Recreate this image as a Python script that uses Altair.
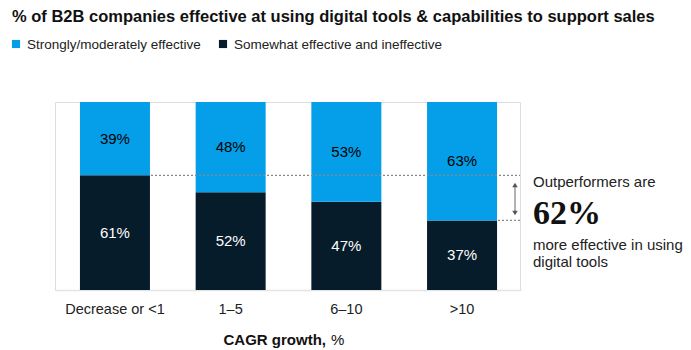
import altair as alt
import pandas as pd

categories = ["Decrease or <1", "1–5", "6–10", ">10"]
strong = [39, 48, 53, 63]
somewhat = [61, 52, 47, 37]
series_names = ["Strongly/moderately effective", "Somewhat effective and ineffective"]

BLUE = "#049FE8"
DARK = "#061C2B"
FONT = "Liberation Sans"

rows = []
for c, s, w in zip(categories, strong, somewhat):
    rows.append({"cat": c, "series": series_names[1], "y0": 0, "y1": w, "label": f"{w}%", "mid": w / 2, "tc": "white"})
    rows.append({"cat": c, "series": series_names[0], "y0": w, "y1": 100, "label": f"{s}%", "mid": w + s / 2, "tc": "black"})
df = pd.DataFrame(rows)

W, H = 465, 188
xenc = alt.X("cat:N", sort=categories,
             scale=alt.Scale(paddingInner=0.395, paddingOuter=0.207, range=[1, 466]),
             axis=alt.Axis(title=None, labelAngle=0, ticks=False, labelFontSize=14.5,
                           labelFont=FONT, labelColor="#222222", labelPadding=12,
                           domainColor="#e4e4e4", domainWidth=1.5))
yscale = alt.Scale(domain=[0, 100])

base = alt.Chart(df)
bars = base.mark_bar(size=70).encode(
    x=xenc,
    y=alt.Y("y0:Q", scale=yscale, axis=None),
    y2="y1:Q",
    color=alt.Color("series:N", scale=alt.Scale(domain=series_names, range=[BLUE, DARK]), legend=None),
)
labels = base.mark_text(fontSize=15, font=FONT).encode(
    x=alt.X("cat:N", sort=categories),
    y=alt.Y("mid:Q", scale=yscale),
    text="label:N",
    color=alt.Color("tc:N", scale=None),
)

# annotation lines
top_df = pd.DataFrame({"v": [somewhat[0]]})
bot_df = pd.DataFrame({"v": [somewhat[-1]]})
dot_style = dict(color="#888888", strokeDash=[2, 2], strokeWidth=1.2)
line1 = alt.Chart(top_df).mark_rule(**dot_style).encode(
    y=alt.Y("v:Q", scale=yscale), x=alt.value(96), x2=alt.value(465))
line2 = alt.Chart(bot_df).mark_rule(**dot_style).encode(
    y=alt.Y("v:Q", scale=yscale), x=alt.value(443), x2=alt.value(465))
arrow = alt.Chart(top_df).mark_rule(color="#666666", strokeWidth=1).encode(
    x=alt.value(460), y=alt.value(82), y2=alt.value(112))
arrow_up = alt.Chart(top_df).mark_point(shape="triangle-up", filled=True, size=30, color="#555555", opacity=1).encode(
    x=alt.value(460), y=alt.value(83))
arrow_dn = alt.Chart(top_df).mark_point(shape="triangle-down", filled=True, size=30, color="#555555", opacity=1).encode(
    x=alt.value(460), y=alt.value(111))

ann_df = pd.DataFrame({
    "t": ["Outperformers are", "more effective in using", "digital tools"],
    "yy": [80, 143, 160],
})
ann = alt.Chart(ann_df).mark_text(align="left", fontSize=15, font=FONT, color="#222222").encode(
    x=alt.value(478), y=alt.Y("yy:Q", scale=None), text="t:N")
big = alt.Chart(pd.DataFrame({"t": ["62%"]})).mark_text(
    align="left", fontSize=34, font="Liberation Serif", fontWeight="bold", color="#111111").encode(
    x=alt.value(478), y=alt.value(112), text="t:N")

# title
title = alt.Chart(pd.DataFrame({"t": ["% of B2B companies effective at using digital tools & capabilities to support sales"]})).mark_text(
    align="left", baseline="middle", fontSize=16.5, font=FONT, fontWeight="bold", color="#111111").encode(
    x=alt.value(-43), y=alt.value(-85), text="t:N")

# legend
leg_df = pd.DataFrame({"name": series_names, "lx": [-39, 168], "tx": [-28, 179]})
leg_sq = alt.Chart(leg_df).mark_square(size=66, opacity=1).encode(
    x=alt.X("lx:Q", scale=None), y=alt.value(-58),
    color=alt.Color("name:N", scale=alt.Scale(domain=series_names, range=[BLUE, DARK]), legend=None))
leg_tx = alt.Chart(leg_df).mark_text(align="left", baseline="middle", fontSize=13.5, font=FONT, color="#222222").encode(
    x=alt.X("tx:Q", scale=None), y=alt.value(-57), text="name:N")

# axis title
ax1 = alt.Chart(pd.DataFrame({"t": ["CAGR growth,"]})).mark_text(
    align="right", baseline="middle", fontSize=15, font=FONT, fontWeight="bold", color="#111111").encode(
    x=alt.value(271), y=alt.value(238), text="t:N")
ax2 = alt.Chart(pd.DataFrame({"t": ["%"]})).mark_text(
    align="left", baseline="middle", fontSize=15, font=FONT, color="#111111").encode(
    x=alt.value(276), y=alt.value(238), text="t:N")

chart = alt.layer(bars, labels, line1, line2, arrow, arrow_up, arrow_dn, ann, big,
                  title, leg_sq, leg_tx, ax1, ax2).properties(
    width=W, height=H,
    autosize=alt.AutoSizeParams(type="none"),
    padding={"left": 55, "top": 102, "right": 171, "bottom": 60},
).configure_view(stroke=None).configure(background="white")

chart.save("out.html", embed_options={"renderer": "svg", "actions": False})
